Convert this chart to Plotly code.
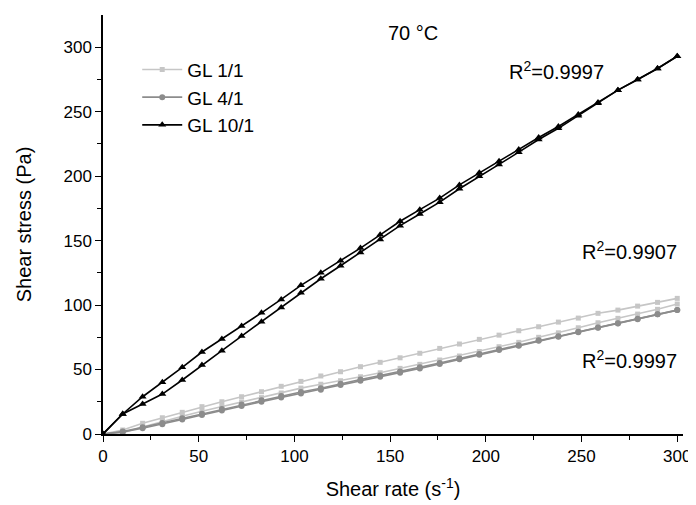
import plotly.graph_objects as go

# Shear rate (s^-1)
shear_rate = [0, 10.3, 20.7, 31.0, 41.4, 51.7, 62.1, 72.4, 82.8, 93.1, 103.4, 113.8, 124.1, 134.5, 144.8,
              155.2, 165.5, 175.9, 186.2, 196.6, 206.9, 217.2, 227.6, 237.9, 248.3, 258.6, 269.0, 279.3, 289.7, 300]

# GL 1/1 (two branches)
gl11_a = [0, 3.1, 8.3, 12.6, 16.8, 21.2, 25.0, 28.9, 32.8, 37.0, 40.8, 45.0, 48.3, 52.2, 55.6, 59.1, 62.6, 66.4,
          69.8, 73.4, 76.7, 80.1, 83.2, 86.8, 89.9, 93.6, 96.1, 99.2, 102.1, 105.2]
gl11_b = [0, 1.0, 5.5, 9.8, 13.8, 17.6, 21.3, 24.8, 28.2, 31.8, 35.6, 38.6, 41.3, 44.4, 47.5, 50.9, 54.0, 57.4,
          60.5, 64.0, 67.7, 71.1, 75.0, 78.5, 82.4, 86.3, 89.7, 93.0, 96.7, 100.8]
# GL 4/1 (two branches)
gl41_a = [0, 1.5, 4.4, 7.6, 11.2, 14.7, 18.3, 21.8, 25.0, 28.3, 31.5, 34.4, 38.0, 41.3, 44.4, 47.5, 50.9, 54.3,
          57.9, 61.5, 65.1, 68.4, 72.3, 75.4, 79.0, 82.4, 85.8, 89.1, 92.8, 96.1]
gl41_b = [0, 2.0, 5.2, 8.6, 12.2, 15.7, 19.3, 22.8, 26.1, 29.4, 32.6, 35.5, 39.0, 42.3, 45.4, 48.5, 51.8, 55.1,
          58.6, 62.1, 65.7, 68.9, 72.7, 75.8, 79.3, 82.6, 86.0, 89.3, 92.9, 96.1]
# GL 10/1 (two branches)
gl101_a = [0, 15.5, 28.9, 40.1, 51.7, 63.6, 73.6, 83.7, 94.0, 104.4, 115.3, 125.0, 134.3, 144.2, 154.5, 165.0,
           174.0, 183.0, 193.2, 202.6, 211.5, 220.6, 230.0, 238.5, 247.8, 257.1, 266.7, 275.0, 283.5, 293.0]
gl101_b = [0, 15.5, 23.3, 31.0, 41.9, 53.5, 64.6, 76.0, 87.1, 98.2, 109.5, 120.4, 130.5, 140.8, 150.9, 161.6,
           170.6, 179.8, 190.2, 200.0, 209.1, 218.6, 228.4, 237.1, 246.8, 256.5, 266.7, 275.0, 283.5, 293.0]

series = [
    ("GL 1/1", [gl11_a, gl11_b], "#c6c6c6", "square", 5),
    ("GL 4/1", [gl41_a, gl41_b], "#8c8c8c", "circle", 6),
    ("GL 10/1", [gl101_a, gl101_b], "#000000", "triangle-up", 7),
]

fig = go.Figure()
for name, branches, color, sym, msize in series:
    for i, ys in enumerate(branches):
        fig.add_trace(go.Scatter(
            x=shear_rate, y=ys, mode="lines+markers", name=name,
            legendgroup=name, showlegend=(i == 0),
            line=dict(color=color, width=1.6),
            marker=dict(symbol=sym, size=msize, color=color),
        ))

font = "Liberation Sans, Arial, sans-serif"
tick_major = [0, 50, 100, 150, 200, 250, 300]
tick_minor = [25, 75, 125, 175, 225, 275]
axis_common = dict(showgrid=False, zeroline=False, showline=True, linecolor="black", linewidth=1.5,
                   ticks="outside", ticklen=6, tickwidth=1.3, tickcolor="black",
                   tickvals=tick_major, tickfont=dict(size=17), automargin=False,
                   minor=dict(tickvals=tick_minor, ticks="outside", ticklen=4,
                              tickwidth=1.3, tickcolor="black"))

fig.update_layout(
    width=696, height=505,
    margin=dict(l=95, r=21, t=7, b=79),
    paper_bgcolor="white", plot_bgcolor="white",
    font=dict(family=font, size=17, color="black"),
    showlegend=True,
    legend=dict(x=0.059, y=0.915, xanchor="left", yanchor="top",
                bgcolor="rgba(0,0,0,0)", font=dict(size=19), itemwidth=40,
                tracegroupgap=0),
    xaxis=dict(range=[0, 303], **axis_common,
               title=dict(text="Shear rate (s<sup>-1</sup>)", font=dict(size=20), standoff=17)),
    yaxis=dict(range=[0, 325], **axis_common,
               title=dict(text="Shear stress (Pa)", font=dict(size=20), standoff=26)),
    annotations=[
        dict(x=162, y=311, xref="x", yref="y", text="70 °C", showarrow=False,
             font=dict(size=20), xanchor="center", yanchor="middle"),
        dict(x=263, y=282, xref="x", yref="y", text="R<sup>2</sup>=0.9997", showarrow=False,
             font=dict(size=20), xanchor="right", yanchor="middle"),
        dict(x=301, y=142, xref="x", yref="y", text="R<sup>2</sup>=0.9907", showarrow=False,
             font=dict(size=20), xanchor="right", yanchor="middle"),
        dict(x=301, y=58, xref="x", yref="y", text="R<sup>2</sup>=0.9997", showarrow=False,
             font=dict(size=20), xanchor="right", yanchor="middle"),
    ],
)

fig.write_html("out.html")
